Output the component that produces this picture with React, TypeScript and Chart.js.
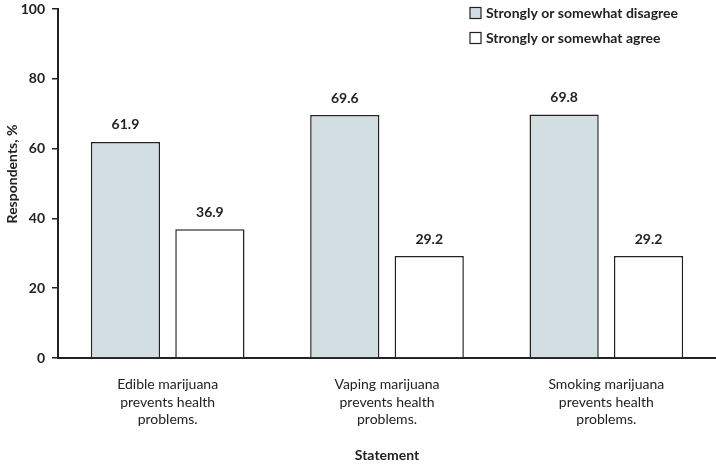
import React, { useEffect, useRef } from "react";
import { Chart, registerables } from "chart.js";

Chart.register(...registerables);

const categories: string[][] = [
  ["Edible marijuana", "prevents health", "problems."],
  ["Vaping marijuana", "prevents health", "problems."],
  ["Smoking marijuana", "prevents health", "problems."],
];
const seriesNames = ["Strongly or somewhat disagree", "Strongly or somewhat agree"];
const disagreeValues = [61.9, 69.6, 69.8];
const agreeValues = [36.9, 29.2, 29.2];
const yTicks = [0, 20, 40, 60, 80, 100];
const yTitle = "Respondents, %";
const xTitle = "Statement";

const FONT = "Lato, 'Open Sans', sans-serif";
const INK = "#222222";

const labelPlugin = {
  id: "valueLabels",
  afterDatasetsDraw(chart: any) {
    const ctx = chart.ctx;
    ctx.save();
    ctx.font = `bold 14px ${FONT}`;
    ctx.fillStyle = INK;
    ctx.textAlign = "center";
    ctx.textBaseline = "bottom";
    chart.data.datasets.forEach((ds: any, i: number) => {
      const meta = chart.getDatasetMeta(i);
      meta.data.forEach((bar: any, j: number) => {
        ctx.fillText(ds.data[j].toFixed(1), bar.x, bar.y - 10);
      });
    });
    ctx.restore();
  },
};

const legendPlugin = {
  id: "customLegend",
  afterDraw(chart: any) {
    const ctx = chart.ctx;
    ctx.save();
    ctx.font = `bold 14px ${FONT}`;
    ctx.textAlign = "left";
    ctx.textBaseline = "middle";
    chart.data.datasets.forEach((ds: any, i: number) => {
      const y = 13 + i * 25;
      ctx.fillStyle = ds.backgroundColor;
      ctx.fillRect(470, y - 5.5, 11, 11);
      ctx.strokeStyle = INK;
      ctx.lineWidth = 1.2;
      ctx.strokeRect(470, y - 5.5, 11, 11);
      ctx.fillStyle = INK;
      ctx.fillText(ds.label, 486, y);
    });
    // y-axis title
    ctx.translate(12, 174);
    ctx.rotate(-Math.PI / 2);
    ctx.textAlign = "center";
    ctx.font = `bold 14px ${FONT}`;
    ctx.fillText(yTitle, 0, 0);
    ctx.restore();
  },
};

export default function App() {
  const ref = useRef<HTMLCanvasElement>(null);
  useEffect(() => {
    const chart = new Chart(ref.current!, {
      type: "bar",
      data: {
        labels: categories as any,
        datasets: [
          {
            label: seriesNames[0],
            data: disagreeValues,
            backgroundColor: "#d3dee3",
            borderColor: INK,
            borderWidth: 1.5,
            categoryPercentage: 0.77,
            barPercentage: 0.82,
          },
          {
            label: seriesNames[1],
            data: agreeValues,
            backgroundColor: "#ffffff",
            borderColor: INK,
            borderWidth: 1.5,
            categoryPercentage: 0.77,
            barPercentage: 0.82,
          },
        ],
      },
      options: {
        animation: false,
        responsive: false,
        maintainAspectRatio: false,
        layout: { padding: { top: 9, right: 0, left: 0, bottom: 0 } },
        plugins: { legend: { display: false }, tooltip: { enabled: false } },
        scales: {
          x: {
            grid: { display: false, drawTicks: false },
            border: { display: true, color: INK, width: 2 },
            ticks: {
              color: INK,
              font: { family: FONT, size: 14, lineHeight: 1.25 },
              padding: 18,
              maxRotation: 0,
              autoSkip: false,
            },
            title: {
              display: true,
              text: xTitle,
              color: INK,
              font: { family: FONT, size: 14, weight: "bold" },
              padding: { top: 0, bottom: 0 },
            },
            afterFit: (s: any) => {
              s.height = 106;
              s.paddingLeft = 0;
              s.paddingRight = 0;
            },
          },
          y: {
            min: 0,
            max: 100,
            afterBuildTicks: (s: any) => {
              s.ticks = yTicks.map((v) => ({ value: v }));
            },
            grid: { drawOnChartArea: false, drawTicks: true, tickLength: 6, color: INK, lineWidth: 1.5 },
            border: { display: true, color: INK, width: 2 },
            ticks: {
              color: INK,
              font: { family: FONT, size: 14, weight: "bold" },
              padding: 7,
            },
            afterFit: (s: any) => {
              s.width = 58;
              s.paddingTop = 0;
              s.paddingBottom = 0;
            },
          },
        },
      },
      plugins: [labelPlugin, legendPlugin],
    });
    return () => chart.destroy();
  }, []);
  return (
    <div style={{ position: "fixed", left: 0, top: 0, width: 716, height: 464, background: "#fff" }}>
      <canvas ref={ref} width={716} height={464} style={{ display: "block" }} />
    </div>
  );
}
